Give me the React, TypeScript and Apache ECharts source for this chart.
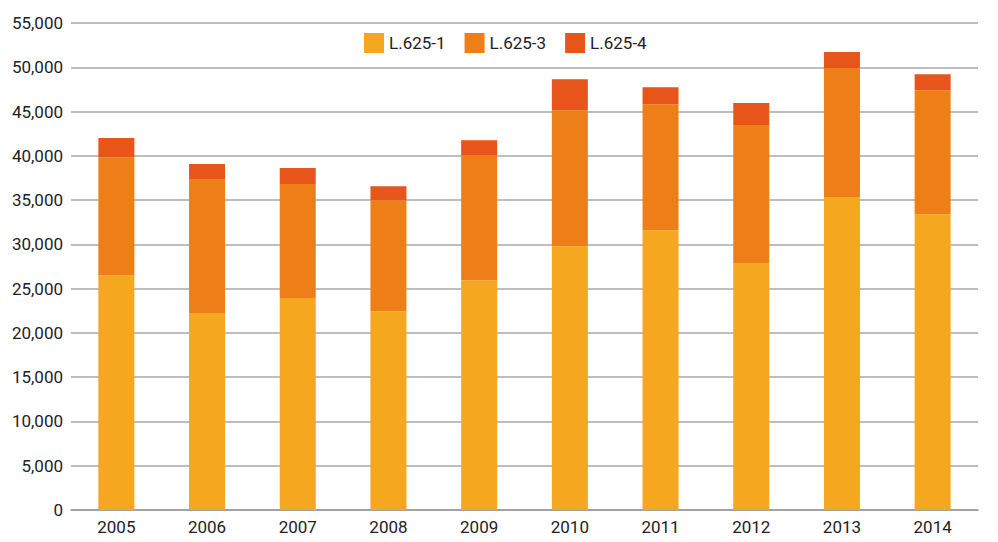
import React, { useEffect, useRef } from "react";
import * as echarts from "echarts";

const years = ["2005", "2006", "2007", "2008", "2009", "2010", "2011", "2012", "2013", "2014"];
const l6251 = [26500, 22250, 23950, 22450, 25950, 29800, 31600, 27900, 35350, 33400];
const l6253 = [13350, 15130, 12880, 12540, 14120, 15360, 14230, 15590, 14570, 14000];
const l6254 = [2150, 1700, 1800, 1580, 1690, 3500, 1920, 2480, 1800, 1810];

const FONT = "Roboto, 'Liberation Sans', sans-serif";

export default function App() {
  const ref = useRef<HTMLDivElement>(null);
  useEffect(() => {
    if (!ref.current) return;
    const chart = echarts.init(ref.current, null, { renderer: "svg" });
    const mk = (name: string, data: number[], color: string) => ({
      name,
      type: "bar",
      stack: "total",
      data,
      barWidth: 36,
      itemStyle: { color },
    });
    chart.setOption({
      animation: false,
      textStyle: { fontFamily: FONT },
      legend: {
        top: 28,
        left: 359,
        itemWidth: 20,
        itemHeight: 20,
        itemGap: 19,
        icon: "rect",
        textStyle: { fontFamily: FONT, fontSize: 17, color: "#222" },
        data: ["L.625-1", "L.625-3", "L.625-4"],
      },
      grid: { left: 71, right: 20, top: 23, bottom: 32, containLabel: false },
      xAxis: {
        type: "category",
        data: years,
        axisTick: { show: false },
        axisLine: { show: true, lineStyle: { color: "#999", width: 1.5 } },
        axisLabel: { fontFamily: FONT, fontSize: 17, color: "#222", margin: 8 },
      },
      yAxis: {
        type: "value",
        min: 0,
        max: 55000,
        interval: 5000,
        axisLine: { show: false },
        axisTick: { show: false },
        axisLabel: {
          fontFamily: FONT,
          fontSize: 17,
          color: "#222",
          margin: 8,
          formatter: (v: number) => v.toLocaleString("en-US"),
        },
        splitLine: { lineStyle: { color: "#a8a8a8", width: 1.5 } },
      },
      series: [
        mk("L.625-1", l6251, "#F5A71F"),
        mk("L.625-3", l6253, "#EE7F18"),
        mk("L.625-4", l6254, "#E8551A"),
      ],
    });
    return () => chart.dispose();
  }, []);
  return (
    <div
      ref={ref}
      style={{ position: "fixed", left: 0, top: 0, width: 998, height: 542, background: "#fff" }}
    />
  );
}
